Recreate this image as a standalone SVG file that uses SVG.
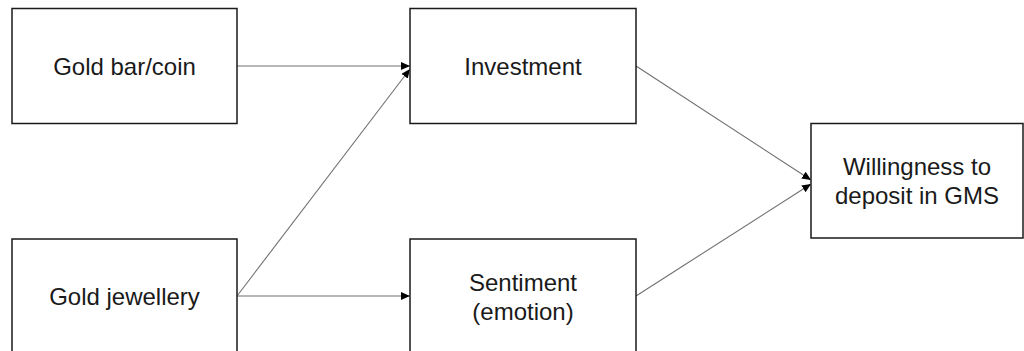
<svg xmlns="http://www.w3.org/2000/svg" width="1024" height="351" viewBox="0 0 1024 351">
<style>
.box{fill:#fff;stroke:#1a1a1a;stroke-width:1.5}
.lbl{font-family:"Liberation Sans",Arial,sans-serif;font-size:24px;fill:#1a1a1a;text-anchor:middle}
.con{stroke:#707070;stroke-width:1.1;fill:none;marker-end:url(#ah)}
</style>
<defs>
<marker id="ah" markerUnits="userSpaceOnUse" markerWidth="10" markerHeight="8" refX="9" refY="4" orient="auto">
<path d="M0,0 L9,4 L0,8 Z" fill="#000"/>
</marker>
</defs>
<rect width="1024" height="351" fill="#fff"/>
<g id="connectors">
<line class="con" x1="237" y1="66" x2="410" y2="66"/>
<line class="con" x1="237" y1="296" x2="410" y2="69"/>
<line class="con" x1="237" y1="296" x2="410" y2="296"/>
<line class="con" x1="636" y1="66" x2="811" y2="180"/>
<line class="con" x1="636" y1="296" x2="811" y2="184"/>
</g>
<g id="gold-bar">
<rect class="box" x="12" y="8.5" width="225" height="115"/>
<text class="lbl" x="124.5" y="74.5">Gold bar/coin</text>
</g>
<g id="gold-jewellery">
<rect class="box" x="12" y="239" width="225" height="116"/>
<text class="lbl" x="124.5" y="304.5">Gold jewellery</text>
</g>
<g id="investment">
<rect class="box" x="410" y="8.5" width="226" height="115"/>
<text class="lbl" x="523" y="74.5">Investment</text>
</g>
<g id="sentiment">
<rect class="box" x="410" y="239" width="226" height="116"/>
<text class="lbl" x="523" y="291">Sentiment</text>
<text class="lbl" x="523" y="320">(emotion)</text>
</g>
<g id="willingness">
<rect class="box" x="811" y="123.5" width="212" height="114.5"/>
<text class="lbl" x="917" y="175">Willingness to</text>
<text class="lbl" x="917" y="204">deposit in GMS</text>
</g>
</svg>
